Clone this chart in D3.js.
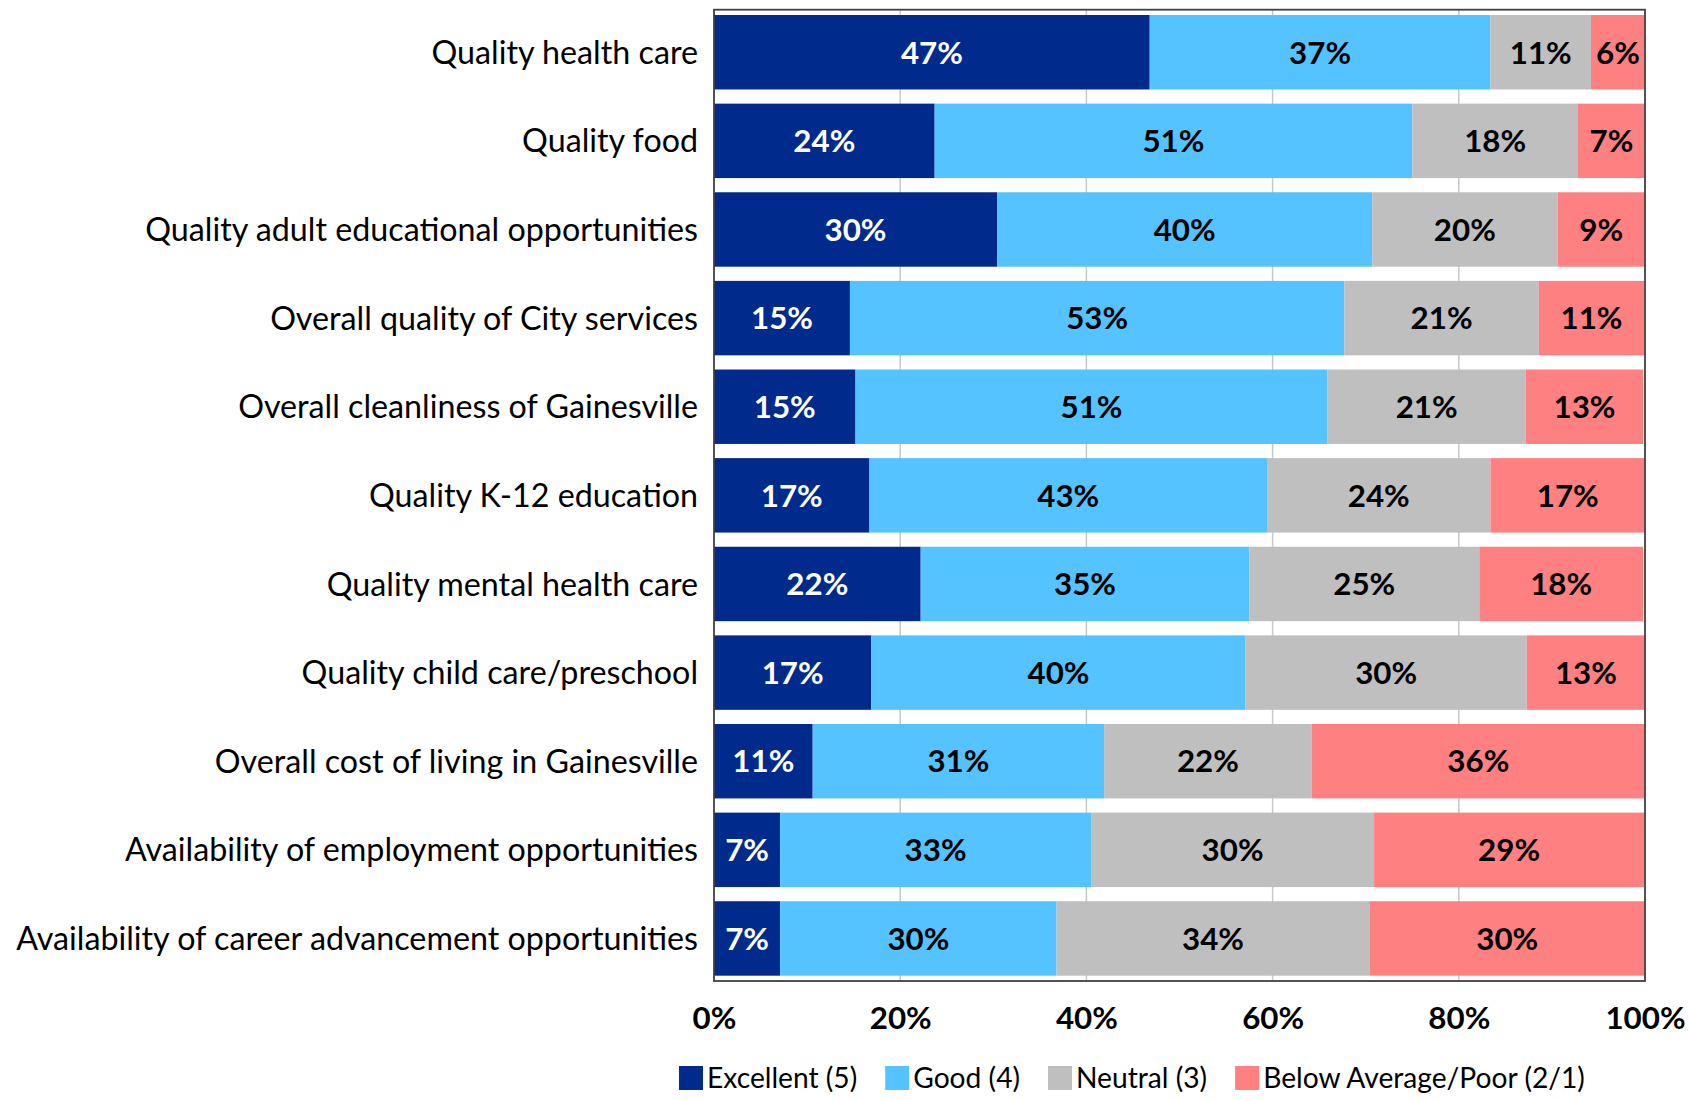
<!DOCTYPE html>
<html><head><meta charset="utf-8">
<script src="https://cdn.jsdelivr.net/npm/d3@7"></script>
<style>body{margin:0;background:#fff;} svg{display:block;}</style>
</head><body>
<svg id="chart" width="1689" height="1100"></svg>
<script>
const categories = [
  "Quality health care",
  "Quality food",
  "Quality adult educational opportunities",
  "Overall quality of City services",
  "Overall cleanliness of Gainesville",
  "Quality K-12 education",
  "Quality mental health care",
  "Quality child care/preschool",
  "Overall cost of living in Gainesville",
  "Availability of employment opportunities",
  "Availability of career advancement opportunities"
];
const seriesNames = ["Excellent (5)", "Good (4)", "Neutral (3)", "Below Average/Poor (2/1)"];
const excellent = [46.8, 23.7, 30.4, 14.6, 15.2, 16.7, 22.2, 16.9, 10.6, 7.1, 7.1];
const good      = [36.6, 51.3, 40.3, 53.1, 50.7, 42.7, 35.3, 40.2, 31.3, 33.4, 29.7];
const neutral   = [10.8, 17.8, 19.9, 20.9, 21.3, 24.0, 24.7, 30.2, 22.3, 30.4, 33.6];
const poor      = [ 6.0,  7.2,  9.4, 11.3, 12.6, 16.6, 17.6, 12.7, 35.8, 29.0, 29.7];
const tickValues = [0, 20, 40, 60, 80, 100];
const tickLabels = ["0%", "20%", "40%", "60%", "80%", "100%"];

const colors = ["#002A8C", "#55C3FF", "#BFBFBF", "#FF8080"];
const textColors = ["#ffffff", "#000000", "#000000", "#000000"];
const FONT = "Lato, 'Open Sans', sans-serif";

const svg = d3.select("#chart");
const plot = {left: 714, right: 1645, top: 9.7, bottom: 981};

const x = d3.scaleLinear().domain([0, 100]).range([plot.left, plot.right]);
const y = d3.scaleBand().domain(categories).range([plot.top, plot.bottom]).paddingInner(0.16).paddingOuter(0.06);

function measure(txt, size, weight) {
  const t = svg.append("text").attr("font-family", FONT).attr("font-size", size).attr("font-weight", weight).text(txt);
  const w = t.node().getComputedTextLength();
  t.remove();
  return w;
}
const catSize = 30 * 682 / measure(categories[10], 30, "normal");
const barSize = 30 * 62 / measure("47%", 30, "bold");
const legSize = 30 * 322 / measure(seriesNames[3], 30, "normal");

svg.append("defs").append("clipPath").attr("id", "clip")
  .append("rect").attr("x", plot.left).attr("y", plot.top).attr("width", plot.right - plot.left).attr("height", plot.bottom - plot.top);

// gridlines
svg.append("g").selectAll("line").data(tickValues.slice(1, -1)).join("line")
  .attr("x1", d => x(d)).attr("x2", d => x(d))
  .attr("y1", plot.top).attr("y2", plot.bottom)
  .attr("stroke", "#C8C8C8").attr("stroke-width", 1.5);

const rows = categories.map((c, i) => ({cat: c, vals: [excellent[i], good[i], neutral[i], poor[i]]}));
const segs = [];
rows.forEach(r => {
  let acc = 0;
  r.vals.forEach((v, k) => { segs.push({cat: r.cat, k, x0: acc, x1: acc + v, v}); acc += v; });
});

const g = svg.append("g").attr("clip-path", "url(#clip)");
g.selectAll("rect").data(segs).join("rect")
  .attr("x", d => x(d.x0)).attr("width", d => x(d.x1) - x(d.x0))
  .attr("y", d => y(d.cat)).attr("height", y.bandwidth())
  .attr("fill", d => colors[d.k]);

svg.append("g").selectAll("text").data(segs).join("text")
  .attr("x", d => (x(d.x0) + Math.min(x(d.x1), plot.right)) / 2)
  .attr("y", d => y(d.cat) + y.bandwidth() / 2)
  .attr("dy", "0.36em")
  .attr("text-anchor", "middle")
  .attr("font-family", FONT).attr("font-weight", "bold").attr("font-size", barSize)
  .attr("fill", d => textColors[d.k])
  .text(d => Math.round(d.v) + "%");

svg.append("rect").attr("x", plot.left).attr("y", plot.top)
  .attr("width", plot.right - plot.left).attr("height", plot.bottom - plot.top)
  .attr("fill", "none").attr("stroke", "#404040").attr("stroke-width", 1.8);

svg.append("g").selectAll("text").data(categories).join("text")
  .attr("x", 698).attr("y", d => y(d) + y.bandwidth() / 2)
  .attr("dy", "0.36em").attr("text-anchor", "end")
  .attr("font-family", FONT).attr("font-size", catSize).attr("fill", "#000")
  .text(d => d);

const xAxis = d3.axisBottom(x).tickValues(tickValues).tickFormat((d, i) => tickLabels[i]).tickSize(0).tickPadding(0);
const ax = svg.append("g").attr("transform", `translate(0, ${plot.bottom})`).call(xAxis);
ax.select(".domain").remove();
ax.selectAll("text").attr("font-family", FONT).attr("font-weight", "bold")
  .attr("font-size", barSize).attr("fill", "#000").attr("dy", "0.36em").attr("y", 37);

// legend
const legY = 1078;
const sq = 24;
let lx = 679;
const leg = svg.append("g");
seriesNames.forEach((name, k) => {
  leg.append("rect").attr("x", lx).attr("y", legY - sq / 2).attr("width", sq).attr("height", sq).attr("fill", colors[k]);
  const t = leg.append("text").attr("x", lx + sq + 4).attr("y", legY).attr("dy", "0.36em")
    .attr("font-family", FONT).attr("font-size", legSize).attr("fill", "#000").text(name);
  lx += sq + 4 + t.node().getComputedTextLength() + 28;
});
</script>
</body></html>
